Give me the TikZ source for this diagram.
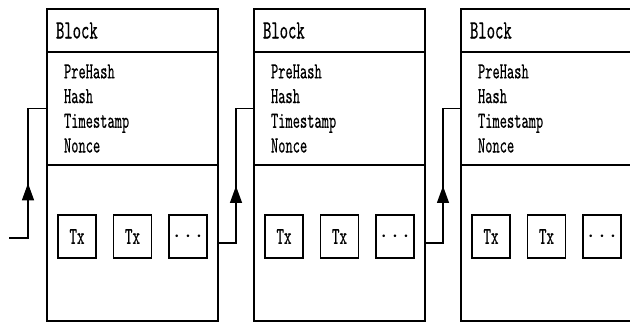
\documentclass[tikz,border=0pt]{standalone}
\usepackage{fontspec}
\usepackage{tikz}
\usetikzlibrary{positioning, arrows.meta, decorations.markings}

\newfontfamily\blockfont{lmmono10-regular.otf}[FakeStretch=0.6, FakeBold=0.4]

\tikzset{
  blockpart/.style={draw, line width=1.3pt, minimum width=171pt, inner sep=0pt, outer sep=0pt},
  head/.style={blockpart, minimum height=43pt, text width=153pt, inner xsep=9pt, align=left, font=\blockfont\fontsize{26.5}{30}\selectfont},
  fields/.style={blockpart, minimum height=113pt, text width=137pt, inner xsep=17pt, align=left, font=\blockfont\fontsize{23}{24.7}\selectfont},
  body/.style={blockpart, minimum height=156pt},
  tx/.style={draw, line width=1.3pt, minimum width=38pt, minimum height=43pt, inner sep=0pt, outer sep=0pt, font=\blockfont\fontsize{24}{26}\selectfont},
  link/.style={line width=1.3pt, postaction={decorate}, decoration={markings, mark=at position 0.44 with {\arrow{Triangle[width=12pt,length=17pt]}}}}
}

\begin{document}
\begin{tikzpicture}[x=1pt, y=1pt]
            \clip (0,0) rectangle (630,-322); %
            % first block
            \node[head, anchor=north west] (head1) at (47,-9) {Block} ; %
            \node[fields, below=0pt of head1] (fields1) {PreHash\\Hash\\Timestamp\\Nonce} ; %
            \node[body, below=0pt of fields1] (body1) {} ; %
            \node[tx, right=11pt of body1.west, yshift=6.5pt] (tx1a) {Tx} ; %
            \node[tx, right=17.5pt of tx1a] (tx1b) {Tx} ; %
            \node[tx, right=17.5pt of tx1b] (tx1c) {$\cdots$} ; %
            % second block
            \node[head, right=36pt of head1] (head2) {Block} ; %
            \node[fields, below=0pt of head2] (fields2) {PreHash\\Hash\\Timestamp\\Nonce} ; %
            \node[body, below=0pt of fields2] (body2) {} ; %
            \node[tx, right=11pt of body2.west, yshift=6.5pt] (tx2a) {Tx} ; %
            \node[tx, right=17.5pt of tx2a] (tx2b) {Tx} ; %
            \node[tx, right=17.5pt of tx2b] (tx2c) {$\cdots$} ; %
            % third block
            \node[head, right=36pt of head2] (head3) {Block} ; %
            \node[fields, below=0pt of head3] (fields3) {PreHash\\Hash\\Timestamp\\Nonce} ; %
            \node[body, below=0pt of fields3] (body3) {} ; %
            \node[tx, right=11pt of body3.west, yshift=6.5pt] (tx3a) {Tx} ; %
            \node[tx, right=17.5pt of tx3a] (tx3b) {Tx} ; %
            \node[tx, right=17.5pt of tx3b] (tx3c) {$\cdots$} ; %

            \coordinate (in) at (9,-238) ; %
            \draw[link] (in) -- ++(19,0) |- (fields1.west) ; %
            \draw[link] (body1.east) -- ++(18,0) |- (fields2.west) ; %
            \draw[link] (body2.east) -- ++(18,0) |- (fields3.west) ; %
\end{tikzpicture}
\end{document}
